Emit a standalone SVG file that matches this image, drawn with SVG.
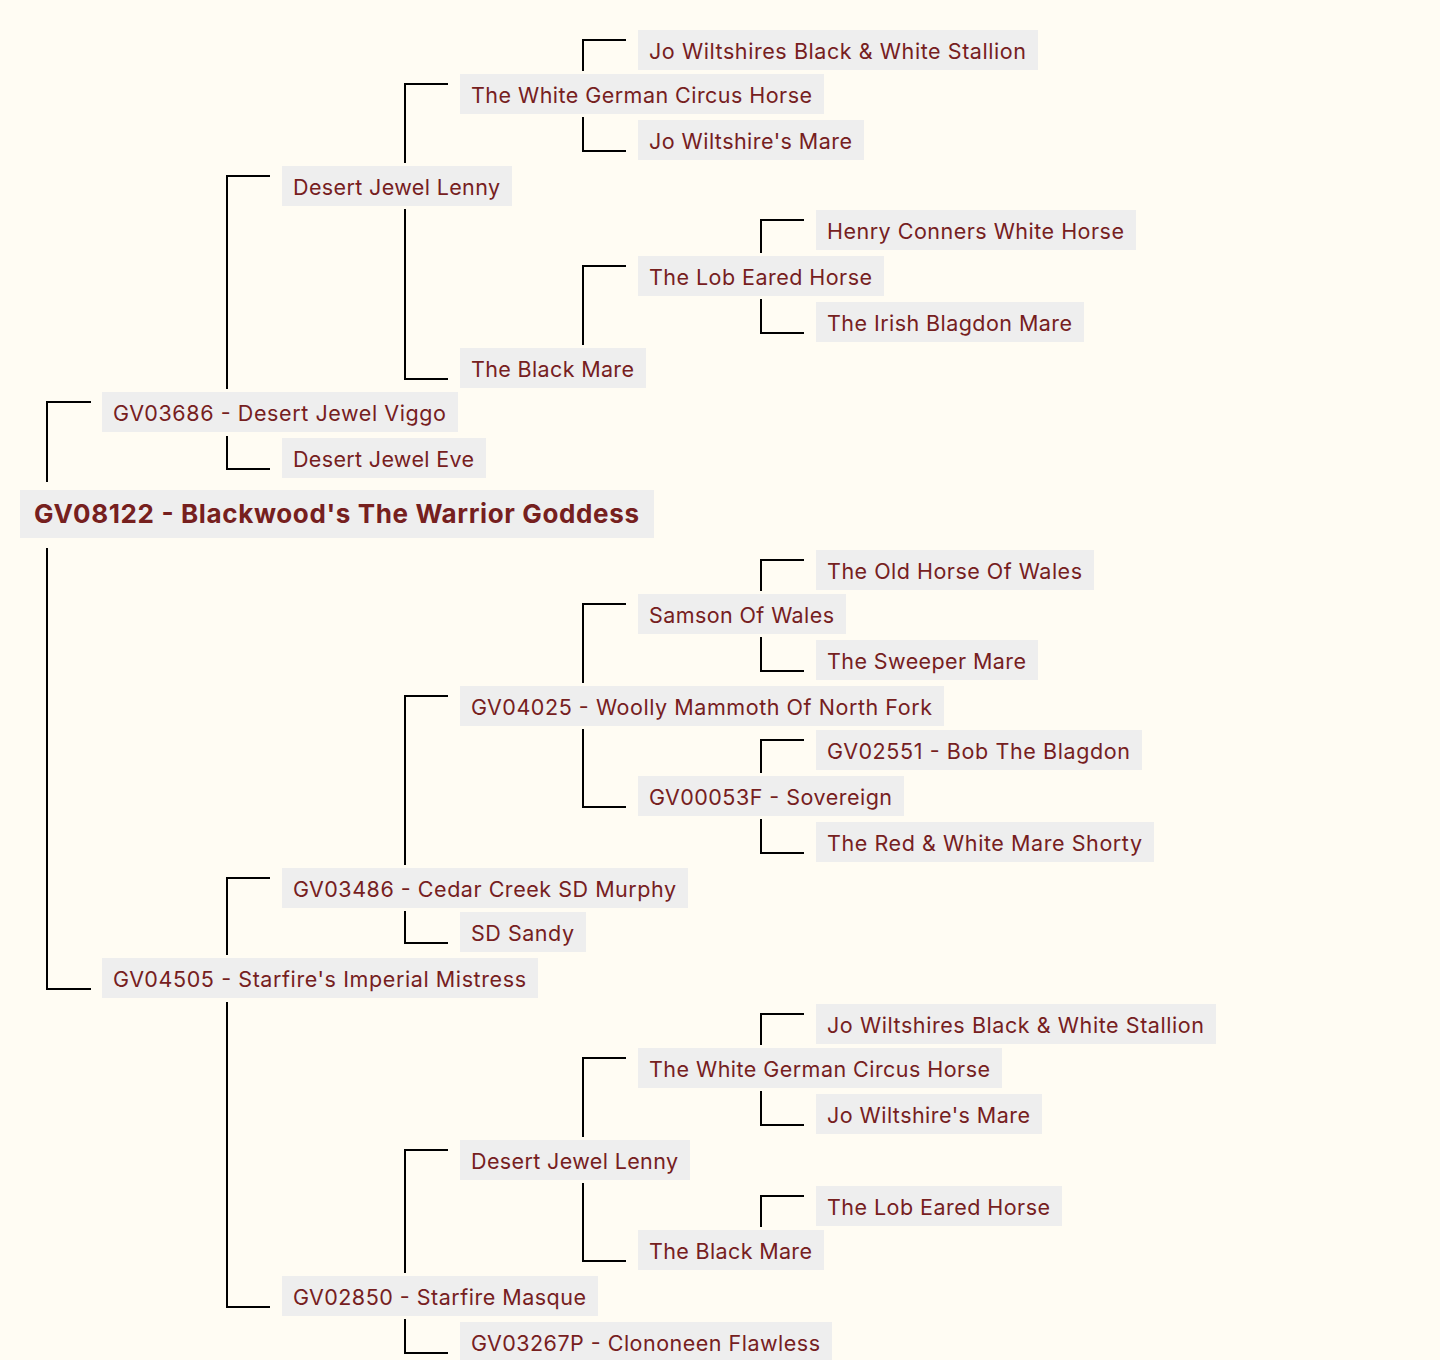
<svg xmlns="http://www.w3.org/2000/svg" width="1440" height="1360" viewBox="0 0 1440 1360">
<style>
.bg{fill:#fffcf3}
.box{fill:#eeeeee}
.t{font-family:Inter,"Noto Sans","DejaVu Sans",sans-serif;font-size:21.5px;fill:#76201e}
.root{font-family:Inter,"Noto Sans","DejaVu Sans",sans-serif;font-size:26px;font-weight:700;fill:#76201e}
.c{fill:none;stroke:#000;stroke-width:2}
</style>
<rect class="bg" x="0" y="0" width="1440" height="1360"/>
<g id="connectors">
<path class="c" d="M47,482 V402 H91"/>
<path class="c" d="M47,548 V989 H91"/>
<path class="c" d="M227,389 V176 H270"/>
<path class="c" d="M227,436 V469 H270"/>
<path class="c" d="M405,163 V84 H448"/>
<path class="c" d="M405,209 V379 H448"/>
<path class="c" d="M583,71 V40 H626"/>
<path class="c" d="M583,117 V151 H626"/>
<path class="c" d="M583,345 V266 H626"/>
<path class="c" d="M761,253 V220 H804"/>
<path class="c" d="M761,299 V333 H804"/>
<path class="c" d="M227,955 V878 H270"/>
<path class="c" d="M227,1002 V1307 H270"/>
<path class="c" d="M405,865 V696 H448"/>
<path class="c" d="M405,911 V943 H448"/>
<path class="c" d="M583,683 V604 H626"/>
<path class="c" d="M583,729 V807 H626"/>
<path class="c" d="M761,591 V560 H804"/>
<path class="c" d="M761,637 V671 H804"/>
<path class="c" d="M761,773 V740 H804"/>
<path class="c" d="M761,819 V853 H804"/>
<path class="c" d="M405,1273 V1150 H448"/>
<path class="c" d="M405,1319 V1353 H448"/>
<path class="c" d="M583,1137 V1058 H626"/>
<path class="c" d="M583,1183 V1261 H626"/>
<path class="c" d="M761,1045 V1014 H804"/>
<path class="c" d="M761,1091 V1125 H804"/>
<path class="c" d="M761,1227 V1196 H804"/>
</g>
<g id="n01"><rect class="box" x="638" y="30" width="400" height="40"/><text class="t" x="649" y="58.5" textLength="377" lengthAdjust="spacing">Jo Wiltshires Black &amp; White Stallion</text></g>
<g id="n02"><rect class="box" x="460" y="74" width="364" height="40"/><text class="t" x="471" y="102.5" textLength="341" lengthAdjust="spacing">The White German Circus Horse</text></g>
<g id="n03"><rect class="box" x="638" y="120" width="226" height="40"/><text class="t" x="649" y="148.5" textLength="203" lengthAdjust="spacing">Jo Wiltshire's Mare</text></g>
<g id="n04"><rect class="box" x="282" y="166" width="230" height="40"/><text class="t" x="293" y="194.5" textLength="207" lengthAdjust="spacing">Desert Jewel Lenny</text></g>
<g id="n05"><rect class="box" x="816" y="210" width="320" height="40"/><text class="t" x="827" y="238.5" textLength="297" lengthAdjust="spacing">Henry Conners White Horse</text></g>
<g id="n06"><rect class="box" x="638" y="256" width="246" height="40"/><text class="t" x="649" y="284.5" textLength="223" lengthAdjust="spacing">The Lob Eared Horse</text></g>
<g id="n07"><rect class="box" x="816" y="302" width="268" height="40"/><text class="t" x="827" y="330.5" textLength="245" lengthAdjust="spacing">The Irish Blagdon Mare</text></g>
<g id="n08"><rect class="box" x="460" y="348" width="186" height="40"/><text class="t" x="471" y="376.5" textLength="163" lengthAdjust="spacing">The Black Mare</text></g>
<g id="n09"><rect class="box" x="102" y="392" width="356" height="40"/><text class="t" x="113" y="420.5" textLength="333" lengthAdjust="spacing">GV03686 - Desert Jewel Viggo</text></g>
<g id="n10"><rect class="box" x="282" y="438" width="204" height="40"/><text class="t" x="293" y="466.5" textLength="181" lengthAdjust="spacing">Desert Jewel Eve</text></g>
<g id="n11"><rect class="box" x="20" y="490" width="634" height="48"/><text class="root" x="34" y="523" textLength="605" lengthAdjust="spacing">GV08122 - Blackwood's The Warrior Goddess</text></g>
<g id="n12"><rect class="box" x="816" y="550" width="278" height="40"/><text class="t" x="827" y="578.5" textLength="255" lengthAdjust="spacing">The Old Horse Of Wales</text></g>
<g id="n13"><rect class="box" x="638" y="594" width="208" height="40"/><text class="t" x="649" y="622.5" textLength="185" lengthAdjust="spacing">Samson Of Wales</text></g>
<g id="n14"><rect class="box" x="816" y="640" width="222" height="40"/><text class="t" x="827" y="668.5" textLength="199" lengthAdjust="spacing">The Sweeper Mare</text></g>
<g id="n15"><rect class="box" x="460" y="686" width="484" height="40"/><text class="t" x="471" y="714.5" textLength="461" lengthAdjust="spacing">GV04025 - Woolly Mammoth Of North Fork</text></g>
<g id="n16"><rect class="box" x="816" y="730" width="326" height="40"/><text class="t" x="827" y="758.5" textLength="303" lengthAdjust="spacing">GV02551 - Bob The Blagdon</text></g>
<g id="n17"><rect class="box" x="638" y="776" width="266" height="40"/><text class="t" x="649" y="804.5" textLength="243" lengthAdjust="spacing">GV00053F - Sovereign</text></g>
<g id="n18"><rect class="box" x="816" y="822" width="338" height="40"/><text class="t" x="827" y="850.5" textLength="315" lengthAdjust="spacing">The Red &amp; White Mare Shorty</text></g>
<g id="n19"><rect class="box" x="282" y="868" width="406" height="40"/><text class="t" x="293" y="896.5" textLength="383" lengthAdjust="spacing">GV03486 - Cedar Creek SD Murphy</text></g>
<g id="n20"><rect class="box" x="460" y="912" width="126" height="40"/><text class="t" x="471" y="940.5" textLength="103" lengthAdjust="spacing">SD Sandy</text></g>
<g id="n21"><rect class="box" x="102" y="958" width="436" height="40"/><text class="t" x="113" y="986.5" textLength="413" lengthAdjust="spacing">GV04505 - Starfire's Imperial Mistress</text></g>
<g id="n22"><rect class="box" x="816" y="1004" width="400" height="40"/><text class="t" x="827" y="1032.5" textLength="377" lengthAdjust="spacing">Jo Wiltshires Black &amp; White Stallion</text></g>
<g id="n23"><rect class="box" x="638" y="1048" width="364" height="40"/><text class="t" x="649" y="1076.5" textLength="341" lengthAdjust="spacing">The White German Circus Horse</text></g>
<g id="n24"><rect class="box" x="816" y="1094" width="226" height="40"/><text class="t" x="827" y="1122.5" textLength="203" lengthAdjust="spacing">Jo Wiltshire's Mare</text></g>
<g id="n25"><rect class="box" x="460" y="1140" width="230" height="40"/><text class="t" x="471" y="1168.5" textLength="207" lengthAdjust="spacing">Desert Jewel Lenny</text></g>
<g id="n26"><rect class="box" x="816" y="1186" width="246" height="40"/><text class="t" x="827" y="1214.5" textLength="223" lengthAdjust="spacing">The Lob Eared Horse</text></g>
<g id="n27"><rect class="box" x="638" y="1230" width="186" height="40"/><text class="t" x="649" y="1258.5" textLength="163" lengthAdjust="spacing">The Black Mare</text></g>
<g id="n28"><rect class="box" x="282" y="1276" width="316" height="40"/><text class="t" x="293" y="1304.5" textLength="293" lengthAdjust="spacing">GV02850 - Starfire Masque</text></g>
<g id="n29"><rect class="box" x="460" y="1322" width="372" height="40"/><text class="t" x="471" y="1350.5" textLength="349" lengthAdjust="spacing">GV03267P - Clononeen Flawless</text></g>
</svg>
